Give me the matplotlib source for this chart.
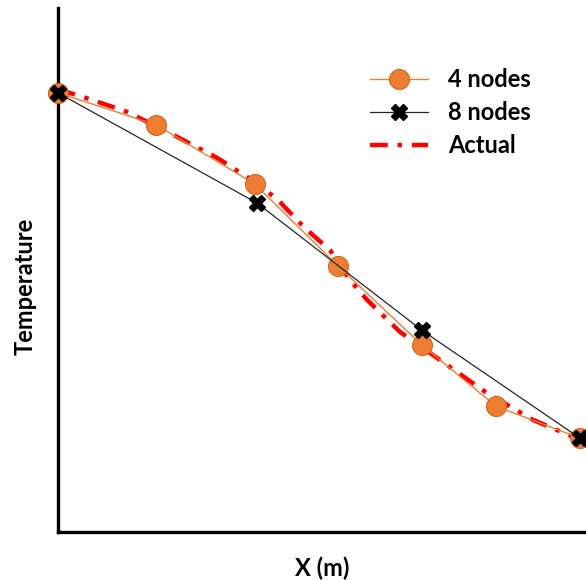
import matplotlib
matplotlib.use("Agg")
import matplotlib.pyplot as plt

# Data (x in normalized length units, y in arbitrary temperature units)
x_4nodes = [0.0, 0.188, 0.377, 0.536, 0.697, 0.839, 1.0]
y_4nodes = [83.8, 77.7, 66.4, 50.8, 35.7, 24.0, 17.9]

x_8nodes = [0.0, 0.381, 0.697, 1.0]
y_8nodes = [83.8, 62.8, 38.5, 17.9]

x_actual = [0.0, 0.061, 0.132, 0.215, 0.305, 0.377, 0.421, 0.473, 0.521,
            0.559, 0.592, 0.655, 0.732, 0.822, 0.910, 1.0]
y_actual = [84.5, 82.6, 80.2, 76.1, 71.4, 66.8, 63.4, 58.0, 53.8,
            48.1, 44.3, 38.2, 32.8, 26.5, 21.4, 17.6]

labels = ["4 nodes", "8 nodes", "Actual"]

plt.rcParams['font.family'] = ['Lato', 'DejaVu Sans']

fig = plt.figure(figsize=(5.86, 5.80), dpi=100)
ax = fig.add_axes([58/586, 48/580, 1 - 58/586, 524/580])

ax.plot(x_actual, y_actual, color='#FF0000', lw=3.2,
        dashes=(4.0, 2.2, 1.0, 2.2), label=labels[2], zorder=2, clip_on=False)
ax.plot(x_8nodes, y_8nodes, color='#262626', lw=0.9, marker='X', markersize=11,
        markerfacecolor='black', markeredgecolor='black', label=labels[1],
        zorder=4, clip_on=False)
ax.plot(x_4nodes, y_4nodes, color='#ED7D31', lw=1.0, marker='o', markersize=14.5,
        markerfacecolor='#ED7D31', markeredgecolor='#C55A11', markeredgewidth=0.6,
        label=labels[0], zorder=3, clip_on=False)

ax.set_xlim(0, 528/522)
ax.set_ylim(0, 100)
ax.set_xticks([])
ax.set_yticks([])
for s in ['top', 'right']:
    ax.spines[s].set_visible(False)
for s in ['left', 'bottom']:
    ax.spines[s].set_linewidth(2.4)
    ax.spines[s].set_color('black')
    ax.spines[s].set_zorder(1)

handles, labs = ax.get_legend_handles_labels()
order = [2, 1, 0]
leg = ax.legend([handles[i] for i in order], [labs[i] for i in order],
                loc='upper left', bbox_to_anchor=(370/586, 1 - 68/580),
                bbox_transform=fig.transFigure, frameon=False,
                prop={'weight': 'bold', 'size': 17}, handlelength=2.45,
                handletextpad=0.85, labelspacing=0.42, borderpad=0, borderaxespad=0,
                numpoints=1)

ax.set_xlabel("X (m)", fontsize=17, fontweight='bold', labelpad=18)
ax.set_ylabel("Temperature", fontsize=17, fontweight='bold')
ax.yaxis.set_label_coords(-21/528, 0.469)

fig.savefig("out.png", dpi=100)
